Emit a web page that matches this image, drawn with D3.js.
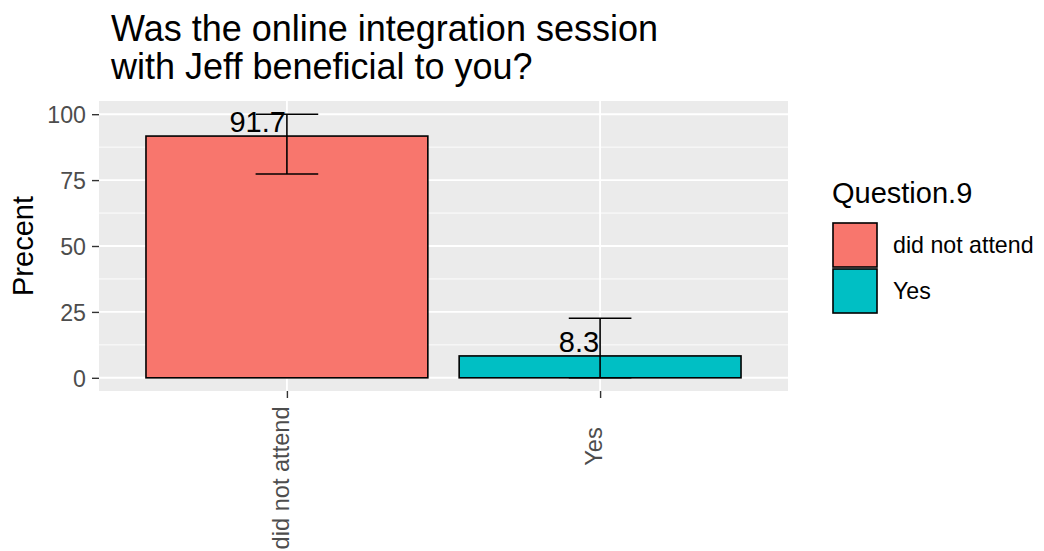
<!DOCTYPE html>
<html>
<head>
<meta charset="utf-8">
<script src="https://cdn.jsdelivr.net/npm/d3@7"></script>
<style>
  html, body { margin: 0; padding: 0; background: #ffffff; }
  svg { display: block; }
  text { font-family: "Liberation Sans", Arial, sans-serif; }
</style>
</head>
<body>
<svg id="chart" width="1044" height="551"></svg>
<script>
// ---- data ----
const categories = ["did not attend", "Yes"];
const percents = [91.7, 8.3];
const errLow = [77.3, 0];
const errHigh = [100, 22.6];
const labels = ["91.7", "8.3"];
const yTicks = [0, 25, 50, 75, 100];
const yMinorTicks = [12.5, 37.5, 62.5, 87.5];
const colors = ["#F8766D", "#00BFC4"];
const titleLines = ["Was the online integration session", "with Jeff beneficial to you?"];
const yTitle = "Precent";
const legendTitle = "Question.9";

// ---- layout ----
const W = 1044, H = 551;
const panel = { left: 99, right: 788, top: 101, bottom: 391 };
const svg = d3.select("#chart");

const x = d3.scaleLinear().domain([0.4, 2.6]).range([panel.left, panel.right]);
const y = d3.scaleLinear().domain([-5, 105]).range([panel.bottom, panel.top]);
const color = d3.scaleOrdinal().domain(categories).range(colors);
const idx = c => categories.indexOf(c) + 1;

// panel background
svg.append("rect")
  .attr("x", panel.left).attr("y", panel.top)
  .attr("width", panel.right - panel.left).attr("height", panel.bottom - panel.top)
  .attr("fill", "#EBEBEB");

svg.append("clipPath").attr("id", "pclip").append("rect")
  .attr("x", panel.left).attr("y", panel.top)
  .attr("width", panel.right - panel.left).attr("height", panel.bottom - panel.top);

const g = svg.append("g").attr("clip-path", "url(#pclip)");

// minor grid
g.selectAll(".minor").data(yMinorTicks).join("line")
  .attr("x1", panel.left).attr("x2", panel.right)
  .attr("y1", d => y(d)).attr("y2", d => y(d))
  .attr("stroke", "#ffffff").attr("stroke-width", 0.9);
// major grid
g.selectAll(".majorY").data(yTicks).join("line")
  .attr("x1", panel.left).attr("x2", panel.right)
  .attr("y1", d => y(d)).attr("y2", d => y(d))
  .attr("stroke", "#ffffff").attr("stroke-width", 1.9);
g.selectAll(".majorX").data(categories).join("line")
  .attr("x1", d => x(idx(d))).attr("x2", d => x(idx(d)))
  .attr("y1", panel.top).attr("y2", panel.bottom)
  .attr("stroke", "#ffffff").attr("stroke-width", 1.9);

// bars
const barW = 0.9;
g.selectAll(".bar").data(categories).join("rect")
  .attr("x", d => x(idx(d) - barW / 2))
  .attr("width", d => x(idx(d) + barW / 2) - x(idx(d) - barW / 2))
  .attr("y", (d, i) => y(percents[i]))
  .attr("height", (d, i) => y(0) - y(percents[i]))
  .attr("fill", d => color(d))
  .attr("stroke", "#000000").attr("stroke-width", 1.6);

// labels
g.selectAll(".lbl").data(categories).join("text")
  .attr("x", d => x(idx(d)) - 1)
  .attr("y", (d, i) => y(percents[i]) - 4)
  .attr("text-anchor", "end")
  .attr("font-size", 29)
  .attr("fill", "#000000")
  .text((d, i) => labels[i]);

// error bars
const ebW = 0.2;
categories.forEach((c, i) => {
  const cx = x(idx(c));
  const x0 = x(idx(c) - ebW / 2), x1 = x(idx(c) + ebW / 2);
  const eg = g.append("g").attr("stroke", "#000000").attr("stroke-width", 1.6);
  eg.append("line").attr("x1", cx).attr("x2", cx).attr("y1", y(errLow[i])).attr("y2", y(errHigh[i]));
  eg.append("line").attr("x1", x0).attr("x2", x1).attr("y1", y(errLow[i])).attr("y2", y(errLow[i]));
  eg.append("line").attr("x1", x0).attr("x2", x1).attr("y1", y(errHigh[i])).attr("y2", y(errHigh[i]));
});

// y axis
const yAxis = d3.axisLeft(y).tickValues(yTicks).tickSize(7).tickPadding(6).tickFormat(d3.format("d"));
const ya = svg.append("g").attr("transform", `translate(${panel.left},0)`).call(yAxis);
ya.select(".domain").remove();
ya.selectAll(".tick line").attr("stroke", "#333333").attr("stroke-width", 1.4);
ya.selectAll(".tick text").attr("fill", "#4D4D4D").attr("font-size", 23.2)
  .attr("font-family", "Liberation Sans, Arial, sans-serif").attr("dy", "0.36em");

// x axis
const xAxis = d3.axisBottom(x).tickValues(categories.map(idx)).tickSize(7).tickFormat(() => "");
const xa = svg.append("g").attr("transform", `translate(0,${panel.bottom})`).call(xAxis);
xa.select(".domain").remove();
xa.selectAll(".tick line").attr("stroke", "#333333").attr("stroke-width", 1.4);
xa.selectAll(".tick text").remove();

const hj = 0.8, xAnchorY = 435;
categories.forEach(c => {
  const t = svg.append("text")
    .attr("font-size", 23.6).attr("fill", "#4D4D4D")
    .attr("text-anchor", "start")
    .text(c);
  const L = t.node().getComputedTextLength();
  const px = x(idx(c)) + 2, py = xAnchorY + hj * L;
  t.attr("transform", `translate(${px},${py}) rotate(-90)`);
});

// y title
svg.append("text")
  .attr("transform", `translate(33,${(panel.top + panel.bottom) / 2}) rotate(-90)`)
  .attr("text-anchor", "middle")
  .attr("font-size", 29).attr("fill", "#000000")
  .text(yTitle);

// title
svg.append("g").selectAll("text").data(titleLines).join("text")
  .attr("x", 111).attr("y", (d, i) => 41 + i * 38)
  .attr("font-size", 36).attr("fill", "#000000")
  .text(d => d);

// legend
const lg = svg.append("g");
lg.append("text").attr("x", 832).attr("y", 203).attr("font-size", 29).attr("fill", "#000000").text(legendTitle);
const keyS = 46, key0 = 222;
categories.forEach((c, i) => {
  const ky = key0 + i * keyS;
  lg.append("rect").attr("x", 832).attr("y", ky).attr("width", keyS).attr("height", keyS).attr("fill", "#F2F2F2");
  lg.append("rect").attr("x", 833).attr("y", ky + 1).attr("width", keyS - 2).attr("height", keyS - 2)
    .attr("fill", color(c)).attr("stroke", "#000000").attr("stroke-width", 1.6);
  lg.append("text").attr("x", 893).attr("y", ky + keyS / 2).attr("dy", "0.36em")
    .attr("font-size", 23.2).attr("fill", "#000000").text(c);
});
</script>
</body>
</html>
